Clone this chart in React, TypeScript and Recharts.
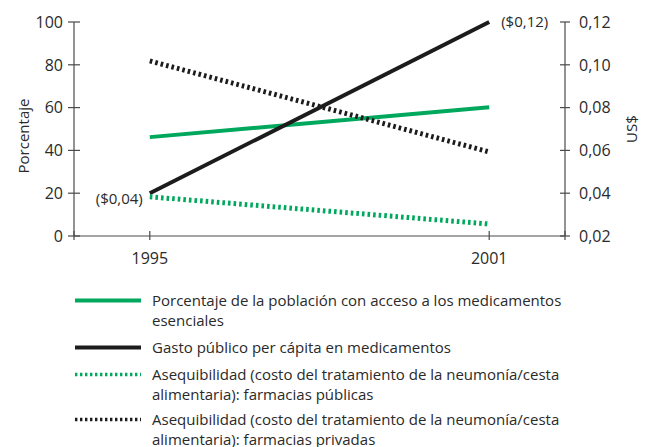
import React from 'react';
import { LineChart, Line, XAxis, YAxis, Legend, LabelList } from 'recharts';

const years = [1995, 2001];
const accessPct = [46.2, 60.2];
const spendUsd = [0.04, 0.12];
const spendLabels = ['($0,04)', '($0,12)'];
const affordPublic = [18.3, 5.6];
const affordPrivate = [81.8, 39.3];
const leftTicks = [0, 20, 40, 60, 80, 100];
const rightTicks = [0.02, 0.04, 0.06, 0.08, 0.1, 0.12];
const xDomain = [1993.66, 2002.34];
const xTicks = [xDomain[0], years[0], years[1], xDomain[1]];

const seriesNames = [
  ['Porcentaje de la población con acceso a los medicamentos', 'esenciales'],
  ['Gasto público per cápita en medicamentos'],
  ['Asequibilidad (costo del tratamiento de la neumonía/cesta', 'alimentaria): farmacias públicas'],
  ['Asequibilidad (costo del tratamiento de la neumonía/cesta', 'alimentaria): farmacias privadas'],
];

const GREEN = '#00a85d';
const BLACK = '#1c1c1c';
const AXIS = '#4a4a4a';
const TEXT = '#2a2a2a';
const FONT = '"Open Sans", sans-serif';
const FS = 15;

const data = years.map((y, i) => ({
  year: y,
  access: accessPct[i],
  spend: spendUsd[i],
  spendLabel: spendLabels[i],
  pub: affordPublic[i],
  priv: affordPrivate[i],
}));

const series = [
  { key: 'access', color: GREEN, dash: undefined, legendDash: undefined, width: 4, axis: 'left' },
  { key: 'spend', color: BLACK, dash: undefined, legendDash: undefined, width: 4, axis: 'right' },
  { key: 'pub', color: GREEN, dash: '2.6 3', legendDash: '2.4 2.6', width: 5, axis: 'left' },
  { key: 'priv', color: BLACK, dash: '2.6 3', legendDash: '2.4 2.6', width: 5, axis: 'left' },
];

const LeftTick = (props: any) => {
  const { x, y, payload } = props;
  return (
    <g>
      <line x1={x - 6} x2={x + 6} y1={y} y2={y} stroke={AXIS} strokeWidth={1.2} />
      <text x={x - 11} y={y} dy="0.36em" textAnchor="end" fontSize={FS + 1} fontFamily={FONT} fill={TEXT}>
        {payload.value}
      </text>
    </g>
  );
};

const RightTick = (props: any) => {
  const { x, y, payload } = props;
  return (
    <g>
      <line x1={x - 5} x2={x + 5} y1={y} y2={y} stroke={AXIS} strokeWidth={1.2} />
      <text x={x + 14} y={y} dy="0.36em" textAnchor="start" fontSize={FS + 1} fontFamily={FONT} fill={TEXT}>
        {Number(payload.value).toFixed(2).replace('.', ',')}
      </text>
    </g>
  );
};

const BottomTick = (props: any) => {
  const { x, y, payload } = props;
  const show = years.includes(payload.value);
  return (
    <g>
      <line x1={x} x2={x} y1={y - 5} y2={y + 4} stroke={AXIS} strokeWidth={1.2} />
      {show && (
        <text x={x} y={y + 22} dy="0.36em" textAnchor="middle" fontSize={FS + 1} fontFamily={FONT} fill={TEXT}>
          {payload.value}
        </text>
      )}
    </g>
  );
};

const AxisTitle = (props: any) => {
  const { viewBox, text, dx, dy } = props;
  const cx = viewBox.x + dx;
  const cy = viewBox.y + viewBox.height / 2 + dy;
  return (
    <text x={cx} y={cy} transform={`rotate(-90 ${cx} ${cy})`} textAnchor="middle" dy="0.36em" fontSize={FS} fontFamily={FONT} fill={TEXT}>
      {text}
    </text>
  );
};

const SpendLabel = (props: any) => {
  const { x, y, value, index } = props;
  if (index === 0) {
    return (
      <text x={x - 7} y={y + 5} dy="0.36em" textAnchor="end" fontSize={FS} fontFamily={FONT} fill={TEXT}>
        {value}
      </text>
    );
  }
  return (
    <text x={x + 12} y={y} dy="0.36em" textAnchor="start" fontSize={FS} fontFamily={FONT} fill={TEXT}>
      {value}
    </text>
  );
};

const LegendContent = () => (
  <div style={{ fontFamily: FONT, fontSize: FS, color: TEXT, lineHeight: '20px' }}>
    {series.map((s, i) => (
      <div key={s.key} style={{ display: 'flex', alignItems: 'flex-start', marginBottom: i === 2 ? 5 : 7 }}>
        <svg width={66} height={20} style={{ marginLeft: 75, marginRight: 11, flex: 'none' }}>
          <line x1={0} x2={66} y1={10.5} y2={10.5} stroke={s.color} strokeWidth={s.dash ? 3.5 : 4} strokeDasharray={s.legendDash} />
        </svg>
        <div>
          {seriesNames[i].map((t, j) => (
            <div key={j}>{t}</div>
          ))}
        </div>
      </div>
    ))}
  </div>
);

export default function App() {
  return (
    <div style={{ position: 'absolute', left: 0, top: 0, width: 652, height: 447, background: '#fff' }}>
      <LineChart width={652} height={447} data={data} margin={{ top: 22, right: 0, left: 0, bottom: 181 }}>
        <XAxis
          dataKey="year"
          type="number"
          domain={xDomain}
          ticks={xTicks}
          allowDataOverflow
          height={30}
          stroke={AXIS}
          strokeWidth={1.2}
          tickLine={false}
          tickSize={0}
          tickMargin={0}
          tick={<BottomTick />}
          interval={0}
        />
        <YAxis
          yAxisId="left"
          orientation="left"
          width={74}
          domain={[0, 100]}
          ticks={leftTicks}
          stroke={AXIS}
          strokeWidth={1.2}
          tickLine={false}
          tickSize={0}
          tickMargin={0}
          tick={<LeftTick />}
          interval={0}
          label={<AxisTitle text="Porcentaje" dx={24} dy={7} />}
        />
        <YAxis
          yAxisId="right"
          orientation="right"
          width={87}
          domain={[0.02, 0.12]}
          ticks={rightTicks}
          stroke={AXIS}
          strokeWidth={1.2}
          tickLine={false}
          tickSize={0}
          tickMargin={0}
          tick={<RightTick />}
          interval={0}
          label={<AxisTitle text="US$" dx={67} dy={0} />}
        />
        {series.map((s) => (
          <Line
            key={s.key}
            yAxisId={s.axis}
            dataKey={s.key}
            type="linear"
            stroke={s.color}
            strokeWidth={s.width}
            strokeDasharray={s.dash}
            strokeLinecap="butt"
            dot={false}
            activeDot={false}
            isAnimationActive={false}
          >
            {s.key === 'spend' && <LabelList dataKey="spendLabel" content={<SpendLabel />} />}
          </Line>
        ))}
        <Legend
          layout="vertical"
          align="center"
          verticalAlign="bottom"
          content={<LegendContent />}
          wrapperStyle={{ position: 'absolute', top: 290, left: 0, width: 652, height: 0, overflow: 'visible', bottom: 'auto' }}
        />
      </LineChart>
    </div>
  );
}
